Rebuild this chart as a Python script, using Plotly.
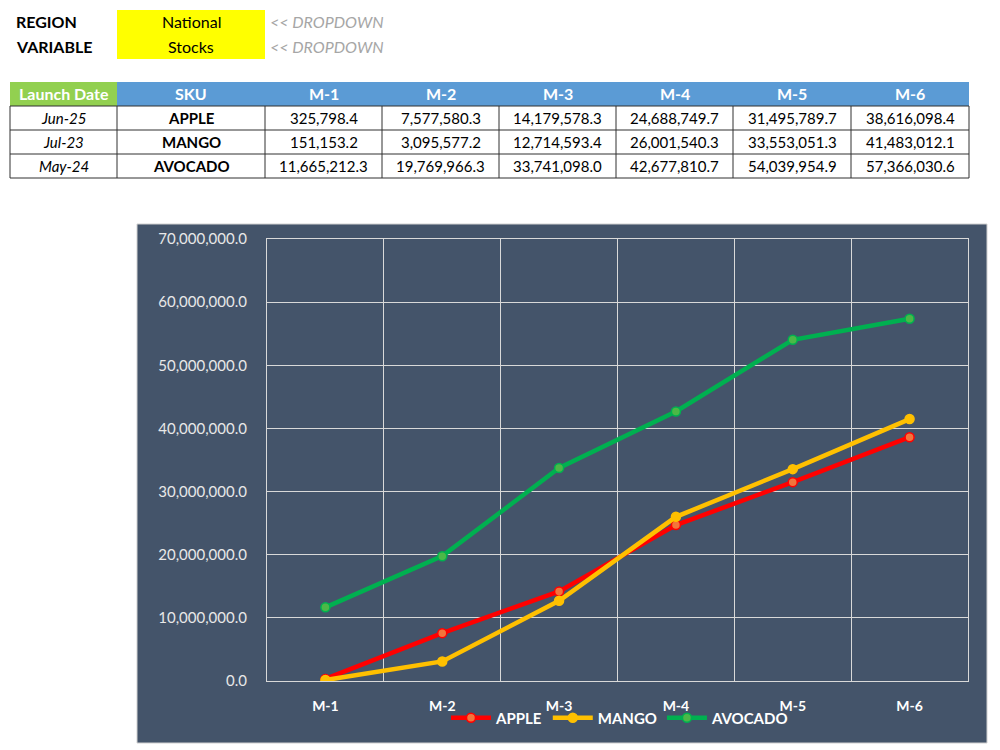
import plotly.graph_objects as go

# ---------------- data ----------------
region_label = "National"
variable_label = "Stocks"
launch_dates = ["Jun-25", "Jul-23", "May-24"]
skus = ["APPLE", "MANGO", "AVOCADO"]
months = ["M-1", "M-2", "M-3", "M-4", "M-5", "M-6"]
apple = [325798.4, 7577580.3, 14179578.3, 24688749.7, 31495789.7, 38616098.4]
mango = [151153.2, 3095577.2, 12714593.4, 26001540.3, 33553051.3, 41483012.1]
avocado = [11665212.3, 19769966.3, 33741098.0, 42677810.7, 54039954.9, 57366030.6]
series = [apple, mango, avocado]
line_colors = ["#FF0000", "#FFC000", "#00B050"]
marker_colors = ["#F4743B", "#FFC000", "#4CB847"]

W, H = 1000, 750
FONT = "Lato"


def fx(x):
    return x / W


def fy(y):
    return 1 - y / H


fig = go.Figure()

for name, vals, lc, mc in zip(skus, series, line_colors, marker_colors):
    fig.add_trace(go.Scatter(
        x=months, y=vals, name="<b>" + name + "</b>", mode="lines+markers",
        line=dict(color=lc, width=4.5),
        marker=dict(color=mc, size=9, line=dict(color=lc, width=1.5)),
    ))

shapes = []
annotations = []

# chart container background
shapes.append(dict(type="rect", xref="paper", yref="paper", layer="below",
                   x0=fx(137), x1=fx(987), y0=fy(743), y1=fy(224),
                   fillcolor="#44546A", line=dict(color="#D0D0D0", width=1)))

# top selectors
shapes.append(dict(type="rect", xref="paper", yref="paper", layer="below",
                   x0=fx(117), x1=fx(265), y0=fy(59), y1=fy(10),
                   fillcolor="#FFFF00", line=dict(width=0)))
for lab, val, yy in [("REGION", region_label, 22), ("VARIABLE", variable_label, 46)]:
    annotations.append(dict(text="<b>" + lab + "</b>", x=fx(14), y=fy(yy), xref="paper", yref="paper",
                            xanchor="left", yanchor="middle", showarrow=False,
                            font=dict(family=FONT, size=16, color="#000000")))
    annotations.append(dict(text=val, x=fx(191), y=fy(yy), xref="paper", yref="paper",
                            xanchor="center", yanchor="middle", showarrow=False,
                            font=dict(family=FONT, size=16, color="#000000")))
    annotations.append(dict(text="<i>&lt;&lt; DROPDOWN</i>", x=fx(268), y=fy(yy), xref="paper", yref="paper",
                            xanchor="left", yanchor="middle", showarrow=False,
                            font=dict(family=FONT, size=16, color="#A6A6A6")))

# table
col_edges = [10, 117, 265, 382, 499, 616, 733, 851, 969]
row_edges = [82, 106, 130, 154, 178]
headers = ["Launch Date", "SKU"] + months
# header fills
shapes.append(dict(type="rect", xref="paper", yref="paper", layer="below",
                   x0=fx(col_edges[0]), x1=fx(col_edges[1]), y0=fy(row_edges[1]), y1=fy(row_edges[0]),
                   fillcolor="#92D050", line=dict(width=0)))
shapes.append(dict(type="rect", xref="paper", yref="paper", layer="below",
                   x0=fx(col_edges[1]), x1=fx(col_edges[-1]), y0=fy(row_edges[1]), y1=fy(row_edges[0]),
                   fillcolor="#5B9BD5", line=dict(width=0)))
for i, h in enumerate(headers):
    cx = (col_edges[i] + col_edges[i + 1]) / 2
    annotations.append(dict(text="<b>" + h + "</b>", x=fx(cx), y=fy(94), xref="paper", yref="paper",
                            xanchor="center", yanchor="middle", showarrow=False,
                            font=dict(family=FONT, size=16, color="#FFFFFF")))
# body borders
border = dict(color="#303030", width=1)
for r in range(1, 5):
    shapes.append(dict(type="line", xref="paper", yref="paper",
                       x0=fx(col_edges[0]), x1=fx(col_edges[-1]), y0=fy(row_edges[r]), y1=fy(row_edges[r]),
                       line=border))
for c in col_edges:
    shapes.append(dict(type="line", xref="paper", yref="paper",
                       x0=fx(c), x1=fx(c), y0=fy(row_edges[1]), y1=fy(row_edges[-1]), line=border))
for r in range(3):
    cy = (row_edges[r + 1] + row_edges[r + 2]) / 2
    cells = ["<i>" + launch_dates[r] + "</i>", "<b>" + skus[r] + "</b>"] + \
            ["{:,.1f}".format(v) for v in series[r]]
    for i, t in enumerate(cells):
        cx = (col_edges[i] + col_edges[i + 1]) / 2
        annotations.append(dict(text=t, x=fx(cx), y=fy(cy), xref="paper", yref="paper",
                                xanchor="center", yanchor="middle", showarrow=False,
                                font=dict(family=FONT, size=15, color="#000000")))

fig.update_layout(
    width=W, height=H, autosize=False,
    margin=dict(l=0, r=0, t=0, b=0, pad=0, autoexpand=False),
    paper_bgcolor="#FFFFFF",
    plot_bgcolor="rgba(0,0,0,0)",
    shapes=shapes,
    annotations=annotations,
    showlegend=True,
    legend=dict(orientation="h", x=fx(620), y=fy(718), xanchor="center", yanchor="middle",
                bgcolor="rgba(0,0,0,0)", font=dict(family=FONT, size=15, color="#FFFFFF"),
                itemwidth=40, tracegroupgap=0),
    xaxis=dict(domain=[fx(267), fx(968)], type="category", range=[-0.5, 5.5],
               tickson="boundaries", showgrid=True, gridcolor="#D9D9D9", gridwidth=1.2,
               showline=True, mirror=True, linecolor="#D9D9D9", linewidth=1.2,
               ticks="", ticklen=0, ticklabelstandoff=12, automargin=False,
               tickfont=dict(family=FONT, size=14, color="#FFFFFF", weight="bold"),
               zeroline=False, fixedrange=True),
    yaxis=dict(domain=[fy(681), fy(239)], range=[0, 70000000], dtick=10000000,
               tickformat=",.1f", showgrid=True, gridcolor="#D9D9D9", gridwidth=1.2,
               showline=True, mirror=True, linecolor="#D9D9D9", linewidth=1.2,
               ticks="", ticklabelstandoff=16, automargin=False,
               tickfont=dict(family=FONT, size=15, color="#E8E8E8"),
               zeroline=False, fixedrange=True),
)

fig.write_html("out.html", config={"displayModeBar": False})
